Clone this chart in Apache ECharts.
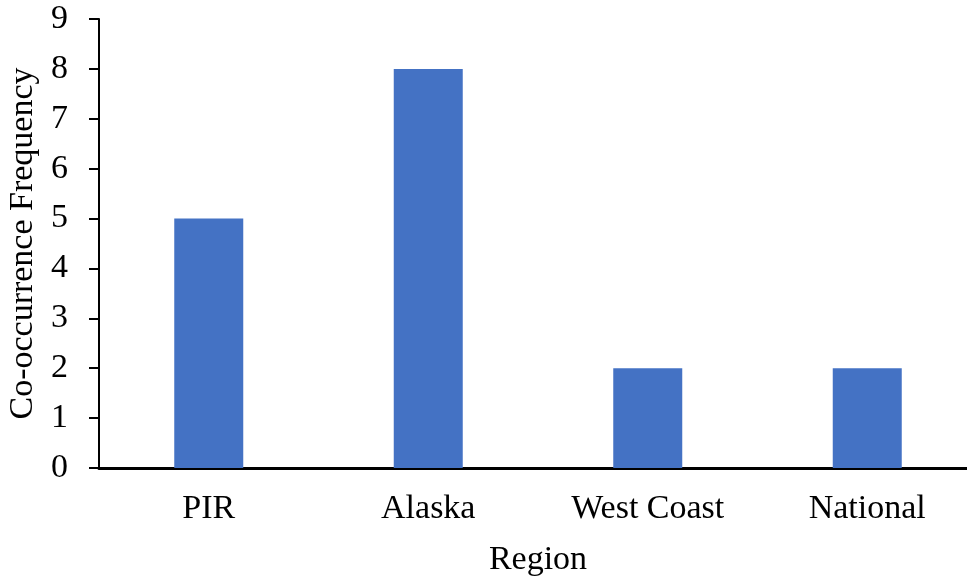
<!DOCTYPE html>
<html><head><meta charset="utf-8">
<script src="https://cdn.jsdelivr.net/npm/echarts@6/dist/echarts.min.js"></script>
<style>html,body{margin:0;padding:0;background:#fff}#c{width:967px;height:576px}</style>
</head><body><div id="c"></div>
<script>
const categories = ["PIR", "Alaska", "West Coast", "National"];
const frequency = [5, 8, 2, 2];
const yTicks = [0, 1, 2, 3, 4, 5, 6, 7, 8, 9];

const font = "'Liberation Serif', 'Times New Roman', serif";
const chart = echarts.init(document.getElementById('c'), null, {renderer: 'canvas'});
chart.setOption({
  animation: false,
  backgroundColor: '#ffffff',
  grid: {left: 99, right: -10, top: 19, bottom: 108, containLabel: false, outerBoundsMode: 'none'},
  xAxis: {
    type: 'category',
    data: categories,
    name: 'Region',
    nameLocation: 'middle',
    nameGap: 75,
    nameTextStyle: {fontFamily: font, fontSize: 34, color: '#000'},
    axisLine: {lineStyle: {color: '#000', width: 3}},
    axisTick: {show: false},
    axisLabel: {fontFamily: font, fontSize: 34, color: '#000', margin: 24}
  },
  yAxis: {
    type: 'value',
    min: yTicks[0],
    max: yTicks[yTicks.length - 1],
    interval: 1,
    name: 'Co-occurrence Frequency',
    nameLocation: 'middle',
    nameGap: 50,
    nameTextStyle: {fontFamily: font, fontSize: 34, color: '#000'},
    axisLine: {show: true, lineStyle: {color: '#000', width: 2}},
    axisTick: {show: true, length: 10, lineStyle: {color: '#000', width: 2}},
    axisLabel: {fontFamily: font, fontSize: 34, color: '#000', margin: 31},
    splitLine: {show: false}
  },
  series: [{
    type: 'bar',
    data: frequency,
    barWidth: 69,
    itemStyle: {color: '#4472C4'}
  }]
});
</script>
</body></html>
